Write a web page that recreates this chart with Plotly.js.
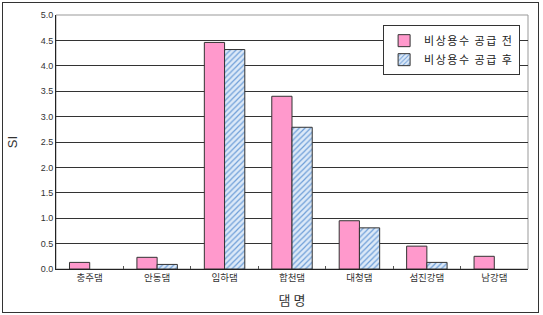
<!DOCTYPE html>
<html><head><meta charset="utf-8">
<script src="https://cdn.plot.ly/plotly-3.0.1.min.js"></script>
<style>
html,body{margin:0;padding:0;background:#fff;}
#frame{position:absolute;left:2px;top:2px;width:535px;height:309px;border:1px solid #333;}
#chart{position:absolute;left:0;top:0;width:543px;height:315px;}
.legendtext{letter-spacing:1.5px;}
</style></head>
<body>
<div id="chart"></div>
<div id="frame"></div>
<script>
const categories = ['충주댐','안동댐','임하댐','합천댐','대청댐','섬진강댐','남강댐'];
const seriesNames = ['비상용수 공급 전','비상용수 공급 후'];
const before = [0.13, 0.23, 4.46, 3.40, 0.95, 0.45, 0.25];
const after  = [null, 0.09, 4.32, 2.79, 0.81, 0.13, null];
const yTicks = [0,0.5,1,1.5,2,2.5,3,3.5,4,4.5,5];

const font = 'Liberation Sans, Noto Sans CJK KR, sans-serif';
const kfont = 'Noto Sans CJK KR, sans-serif';

const traces = [
  {type:'bar', name:seriesNames[0], x:categories, y:before,
   marker:{color:'#ff99cc', line:{color:'#333', width:1}}},
  {type:'bar', name:seriesNames[1], x:categories, y:after,
   marker:{color:'#dce9f8', line:{color:'#333', width:1},
     pattern:{shape:'/', bgcolor:'#dce9f8', fgcolor:'#6f9fd8', size:4, solidity:0.3}}}
];

const layout = {
  width:543, height:315,
  margin:{l:56, r:15, t:15, b:46},
  paper_bgcolor:'#fff', plot_bgcolor:'#fff',
  barmode:'group', bargap:0.4, bargroupgap:0,
  showlegend:true,
  legend:{x:0.693, y:0.96, xanchor:'left', yanchor:'top', bgcolor:'#fff',
    bordercolor:'#333', borderwidth:1, font:{family:kfont, size:11, color:'#222'},
    tracegroupgap:0, itemwidth:30},
  xaxis:{type:'category', showgrid:false, showline:true, linecolor:'#222', linewidth:1,
    ticks:'inside', tickson:'boundaries', ticklen:3, tickcolor:'#555',
    tickfont:{family:kfont, size:9.5, color:'#333'},
    title:{text:'댐 명', font:{family:kfont, size:13, color:'#333'}, standoff:12}},
  yaxis:{range:[0,5], tickvals:yTicks, ticktext:yTicks.map(v=>v.toFixed(1)),
    showgrid:true, gridcolor:'#333', gridwidth:1, showline:true, linecolor:'#222', linewidth:1,
    ticks:'', zeroline:false, tickfont:{family:font, size:9, color:'#333'},
    title:{text:'SI', font:{family:font, size:13, color:'#333'}, standoff:20}},
  shapes:[{type:'rect', xref:'paper', yref:'paper', x0:0, x1:1, y0:0, y1:1,
    line:{color:'#999', width:1}, layer:'below'}]
};

Plotly.newPlot('chart', traces, layout, {displayModeBar:false, staticPlot:true});
</script>
</body></html>
